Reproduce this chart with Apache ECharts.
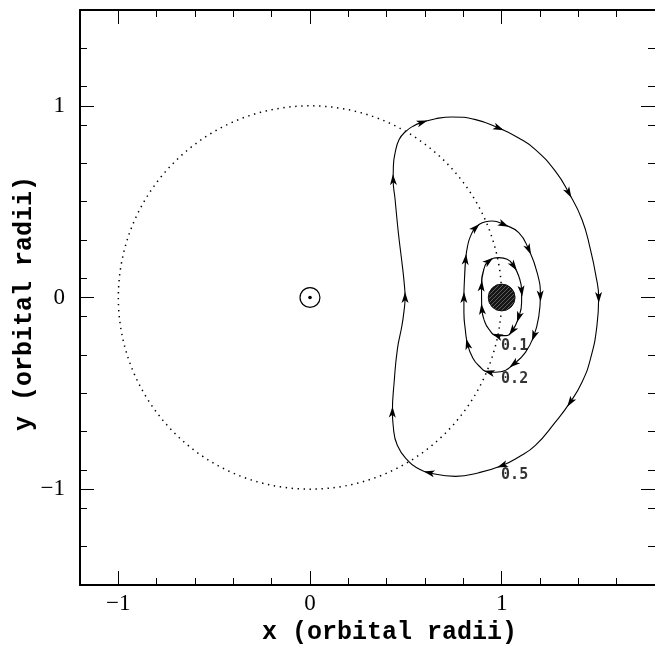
<!DOCTYPE html>
<html><head><meta charset="utf-8">
<script src="https://cdn.jsdelivr.net/npm/echarts@6/dist/echarts.min.js"></script>
<style>html,body{margin:0;padding:0;background:#fff}#c{width:655px;height:650px}</style>
</head><body><div id="c"></div>
<script>
// ---- data ----
const xRange = [-1.2, 1.8];
const yRange = [-1.5, 1.5];
const xTickValues = [-1, 0, 1];
const yTickValues = [-1, 0, 1];
const xTitle = 'x (orbital radii)';
const yTitle = 'y (orbital radii)';

// trajectory for 0.5 (clockwise)
const curve05 = [
  [0.496, 0.000], [0.491, 0.080], [0.482, 0.164], [0.461, 0.338], [0.444, 0.511],
  [0.434, 0.615], [0.435, 0.685], [0.444, 0.754], [0.465, 0.824], [0.500, 0.867],
  [0.540, 0.895], [0.586, 0.914], [0.656, 0.933], [0.742, 0.942], [0.864, 0.928],
  [0.985, 0.884], [1.089, 0.832], [1.176, 0.772], [1.280, 0.659], [1.350, 0.546],
  [1.419, 0.407], [1.463, 0.251], [1.492, 0.112], [1.506, 0.000], [1.497, -0.148],
  [1.463, -0.321], [1.419, -0.442], [1.358, -0.546], [1.280, -0.650], [1.176, -0.772],
  [1.089, -0.832], [1.003, -0.876], [0.881, -0.914], [0.760, -0.933], [0.621, -0.914],
  [0.565, -0.892], [0.517, -0.858], [0.456, -0.772], [0.434, -0.668], [0.430, -0.598],
  [0.439, -0.442], [0.456, -0.269], [0.479, -0.150], [0.490, -0.075]
];
const arrows05 = [0, 5, 11, 15, 19, 23, 27, 31, 34, 39];

// trajectory for 0.2
const curve02 = [
  [0.803, 0.000], [0.806, 0.095], [0.812, 0.199], [0.822, 0.268], [0.837, 0.319],
  [0.864, 0.364], [0.916, 0.395], [0.951, 0.399], [1.011, 0.381], [1.089, 0.338],
  [1.141, 0.251], [1.185, 0.130], [1.202, 0.008], [1.194, -0.096], [1.168, -0.200],
  [1.124, -0.286], [1.063, -0.347], [0.995, -0.387], [0.935, -0.390], [0.881, -0.356],
  [0.847, -0.311], [0.822, -0.243], [0.810, -0.165], [0.803, -0.078]
];
const arrows02 = [0, 2, 5, 8, 10, 12, 14, 16, 18, 21];

// trajectory for 0.1
const curve01 = [
  [0.895, 0.000], [0.895, 0.060], [0.907, 0.147], [0.933, 0.190], [0.985, 0.208],
  [1.029, 0.199], [1.063, 0.164], [1.089, 0.112], [1.104, 0.034], [1.104, -0.026],
  [1.089, -0.102], [1.055, -0.174], [1.020, -0.199], [0.977, -0.199], [0.933, -0.165],
  [0.907, -0.113], [0.897, -0.061]
];
const arrows01 = [1, 3, 6, 8, 10, 11, 13, 16];

const curveNames = ['0.1', '0.2', '0.5'];
const curveLabelPos = [[0.997, -0.255], [0.997, -0.428], [0.997, -0.925]];

const orbit = [[0, 0, 1]];            // centre x, centre y, radius
const sun = [[0, 0, 0.052, 0.0095]];  // centre, ring radius, dot radius
const planet = [[1, 0, 0.07]];        // centre, radius

// ---- helpers ----
// wrap the loop so the smoothing has neighbours at the join
function closed(pts) {
  const n = pts.length;
  return [pts[n - 2], pts[n - 1]].concat(pts, [pts[0], pts[1], pts[2]]);
}
function arrowData(pts, idx) {
  const n = pts.length;
  return idx.map(i => {
    const p = pts[(i - 1 + n) % n], q = pts[(i + 1) % n];
    const ang = Math.atan2(q[1] - p[1], q[0] - p[0]) * 180 / Math.PI;
    return { value: pts[i], symbolRotate: ang - 90 };
  });
}
function fmt(v) { return v < 0 ? '\u2212' + Math.abs(v) : String(v); }

// hatch pattern for the planet
const pc = document.createElement('canvas');
pc.width = 4; pc.height = 4;
const g = pc.getContext('2d');
g.fillStyle = '#161616'; g.fillRect(0, 0, 4, 4);
g.strokeStyle = '#707070'; g.lineWidth = 0.8;
g.beginPath();
g.moveTo(-1, 5); g.lineTo(5, -1);
g.moveTo(-1, 1); g.lineTo(1, -1);
g.moveTo(3, 5); g.lineTo(5, 3);
g.stroke();

const black = '#000';
const labelFont = { fontFamily: 'Liberation Serif', fontSize: 23, color: black };
const nameFont = { fontFamily: 'Liberation Mono', fontWeight: 'bold', fontSize: 25, color: black };

function majorAxis(pos, range, ticks, showLabel, extra) {
  return Object.assign({
    type: 'value', position: pos, min: range[0], max: range[1], interval: 0.2,
    axisLine: { show: true, onZero: false, lineStyle: { color: black, width: 2 } },
    axisTick: { show: true, inside: true, length: 14, customValues: ticks, lineStyle: { color: black, width: 1 } },
    axisLabel: showLabel ? Object.assign({ show: true, customValues: ticks, formatter: fmt }, labelFont) : { show: false },
    splitLine: { show: false }
  }, extra || {});
}
function minorAxis(pos, range) {
  return {
    type: 'value', position: pos, min: range[0], max: range[1], interval: 0.2,
    axisLine: { show: false, onZero: false },
    axisTick: { show: true, inside: true, length: 7, lineStyle: { color: black, width: 1 } },
    axisLabel: { show: false },
    splitLine: { show: false }
  };
}

const chart = echarts.init(document.getElementById('c'), null, { renderer: 'canvas' });
chart.setOption({
  animation: false,
  backgroundColor: '#fff',
  grid: { left: 80, top: 10, width: 577, height: 577, containLabel: false },
  xAxis: [
    majorAxis('bottom', xRange, xTickValues, true, {
      name: xTitle, nameLocation: 'middle', nameGap: 35, nameMoveOverlap: false,
      nameTextStyle: Object.assign({ padding: [0, 0, 0, 44] }, nameFont),
      axisLabel: Object.assign({ show: true, customValues: xTickValues, formatter: fmt, margin: 7 }, labelFont)
    }),
    minorAxis('bottom', xRange),
    majorAxis('top', xRange, xTickValues, false),
    minorAxis('top', xRange)
  ],
  yAxis: [
    majorAxis('left', yRange, yTickValues, true, {
      name: yTitle, nameLocation: 'middle', nameGap: 43, nameMoveOverlap: false,
      nameTextStyle: Object.assign({ padding: [0, 12, 0, 0] }, nameFont),
      axisLabel: Object.assign({ show: true, customValues: yTickValues, formatter: fmt, margin: 15 }, labelFont)
    }),
    minorAxis('left', yRange),
    majorAxis('right', yRange, yTickValues, false, {
      axisLine: { show: false, onZero: false }
    }),
    minorAxis('right', yRange)
  ],
  series: [
    {
      type: 'custom', coordinateSystem: 'cartesian2d', xAxisIndex: 0, yAxisIndex: 0,
      data: orbit, encode: { x: 0, y: 1 }, z: 1, silent: true,
      renderItem: (params, api) => {
        const c = api.coord([api.value(0), api.value(1)]);
        const r = api.size([api.value(2), 0])[0];
        return { type: 'circle', shape: { cx: c[0], cy: c[1], r: r },
          style: { fill: 'none', stroke: black, lineWidth: 1.5, lineDash: [1.4, 4.6] } };
      }
    },
    {
      type: 'line', name: curveNames[2], data: closed(curve05), smooth: 0.5, symbol: 'none',
      lineStyle: { color: black, width: 1.1 }, z: 3, silent: true
    },
    {
      type: 'line', name: curveNames[1], data: closed(curve02), smooth: 0.5, symbol: 'none',
      lineStyle: { color: black, width: 1.1 }, z: 3, silent: true
    },
    {
      type: 'line', name: curveNames[0], data: closed(curve01), smooth: 0.5, symbol: 'none',
      lineStyle: { color: black, width: 1.1 }, z: 3, silent: true
    },
    {
      type: 'scatter', z: 4, silent: true,
      symbol: 'path://M0,0 L4,12 L0,9 L-4,12 Z', symbolSize: [7, 11],
      itemStyle: { color: black, opacity: 1 },
      data: arrowData(curve05, arrows05).concat(arrowData(curve02, arrows02), arrowData(curve01, arrows01))
    },
    {
      type: 'custom', coordinateSystem: 'cartesian2d', data: sun, encode: { x: 0, y: 1 }, z: 5, silent: true,
      renderItem: (params, api) => {
        const c = api.coord([api.value(0), api.value(1)]);
        const r = api.size([api.value(2), 0])[0];
        const rd = api.size([api.value(3), 0])[0];
        return { type: 'group', children: [
          { type: 'circle', shape: { cx: c[0], cy: c[1], r: r }, style: { fill: '#fff', stroke: black, lineWidth: 1.2 } },
          { type: 'circle', shape: { cx: c[0], cy: c[1], r: rd }, style: { fill: black } }
        ] };
      }
    },
    {
      type: 'custom', coordinateSystem: 'cartesian2d', data: planet, encode: { x: 0, y: 1 }, z: 5, silent: true,
      renderItem: (params, api) => {
        const c = api.coord([api.value(0), api.value(1)]);
        const r = api.size([api.value(2), 0])[0];
        return { type: 'circle', shape: { cx: c[0], cy: c[1], r: r },
          style: { fill: { image: pc, repeat: 'repeat' }, stroke: '#111', lineWidth: 1 } };
      }
    },
    {
      type: 'scatter', z: 6, silent: true, symbolSize: 0,
      data: curveLabelPos.map((p, i) => ({ value: p, name: curveNames[i] })),
      label: { show: true, position: 'right', distance: 0, formatter: '{b}',
        fontFamily: 'DejaVu Sans Mono', fontWeight: 'bold', fontSize: 15, color: black }
    }
  ]
});
</script>
</body></html>
